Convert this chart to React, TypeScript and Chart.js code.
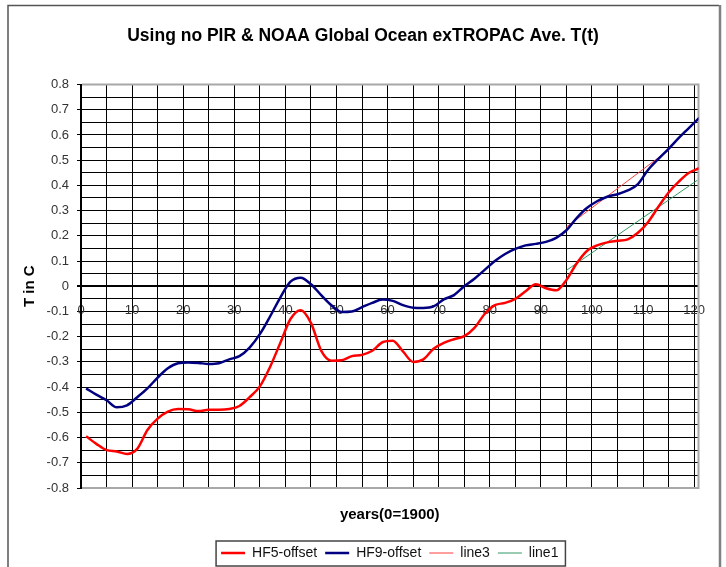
import React, { useEffect, useRef } from 'react';
import { Chart, registerables } from 'chart.js';

Chart.register(...registerables);

const TITLE = 'Using no PIR & NOAA Global Ocean exTROPAC Ave. T(t)';
const X_TITLE = 'years(0=1900)';
const Y_TITLE = 'T in C';

const YEARS = [
  1, 3, 5, 7, 9, 11, 13, 15, 17, 19, 21, 23, 25, 27, 29, 31, 33, 35, 37, 39,
  41, 43, 45, 47, 49, 51, 53, 55, 57, 59, 61, 63, 65, 67, 69, 71, 73, 75, 77, 79,
  81, 83, 85, 87, 89, 91, 93, 95, 97, 99, 101, 103, 105, 107, 109, 111, 113, 115, 117, 119, 121,
];

const HF5_OFFSET = [
  -0.595, -0.625, -0.65, -0.655, -0.665, -0.645, -0.57, -0.525, -0.497, -0.487,
  -0.488, -0.495, -0.49, -0.49, -0.487, -0.475, -0.44, -0.397, -0.32, -0.225,
  -0.13, -0.095, -0.145, -0.255, -0.295, -0.293, -0.277, -0.272, -0.256, -0.222,
  -0.216, -0.258, -0.3, -0.29, -0.248, -0.225, -0.21, -0.198, -0.165, -0.11,
  -0.075, -0.066, -0.05, -0.02, 0.008, -0.008, -0.016, 0.025, 0.09, 0.14,
  0.162, 0.174, 0.18, 0.186, 0.212, 0.255, 0.315, 0.372, 0.415, 0.45, 0.468,
];

const HF9_OFFSET = [
  -0.405, -0.43, -0.452, -0.48, -0.472, -0.44, -0.405, -0.362, -0.325, -0.305,
  -0.302, -0.304, -0.308, -0.305, -0.29, -0.277, -0.243, -0.19, -0.12, -0.045,
  0.018, 0.034, 0.008, -0.035, -0.075, -0.102, -0.1, -0.083, -0.066, -0.053,
  -0.058, -0.075, -0.085, -0.086, -0.08, -0.052, -0.035, 0.0, 0.03, 0.065,
  0.1, 0.128, 0.148, 0.162, 0.168, 0.176, 0.192, 0.222, 0.27, 0.31,
  0.337, 0.355, 0.365, 0.38, 0.405, 0.462, 0.505, 0.545, 0.588, 0.628, 0.668,
];

const LINE3_YEARS = [95, 115];
const LINE3 = [0.235, 0.54];
const LINE1_YEARS = [95, 120.6];
const LINE1 = [0.063, 0.42];

const X_MIN = 0;
const X_MAX = 120.85;
const Y_MIN = -0.8;
const Y_MAX = 0.8;

const FONT = "'Liberation Sans', Arial, sans-serif";

const toPoints = (xs: number[], ys: number[]) => xs.map((x, i) => ({ x, y: ys[i] }));

const decorPlugin = {
  id: 'decor',
  beforeDraw(chart: any) {
    const { ctx, width, height } = chart;
    ctx.save();
    ctx.fillStyle = '#ffffff';
    ctx.fillRect(0, 0, width, height);
    ctx.strokeStyle = '#555555';
    ctx.lineWidth = 1.5;
    ctx.beginPath();
    ctx.moveTo(8, height);
    ctx.lineTo(8, 5.5);
    ctx.lineTo(719, 5.5);
    ctx.stroke();
    ctx.strokeStyle = '#808080';
    ctx.lineWidth = 2.5;
    ctx.beginPath();
    ctx.moveTo(720, 5);
    ctx.lineTo(720, height);
    ctx.stroke();
    ctx.restore();
  },
  beforeDatasetsDraw(chart: any) {
    const { ctx, chartArea: a } = chart;
    ctx.save();
    ctx.strokeStyle = '#a8a8a8';
    ctx.lineWidth = 2;
    ctx.beginPath();
    ctx.moveTo(a.left + 1, a.top);
    ctx.lineTo(a.right, a.top);
    ctx.lineTo(a.right, a.bottom);
    ctx.lineTo(a.left + 1, a.bottom);
    ctx.stroke();
    ctx.restore();
  },
  afterDraw(chart: any) {
    const lg = chart.legend;
    if (!lg || !lg.legendHitBoxes || !lg.legendHitBoxes.length) return;
    let l = Infinity, r = -Infinity, t = Infinity, b = -Infinity;
    for (const h of lg.legendHitBoxes) {
      l = Math.min(l, h.left);
      r = Math.max(r, h.left + h.width);
      t = Math.min(t, h.top);
      b = Math.max(b, h.top + h.height);
    }
    const { ctx } = chart;
    ctx.save();
    ctx.strokeStyle = '#444444';
    ctx.lineWidth = 1.5;
    ctx.strokeRect(l - 5, t - 5, r - l + 12, b - t + 11);
    ctx.restore();
  },
};

const isTenth = (v: number) => Math.abs(v * 10 - Math.round(v * 10)) < 1e-6;

export default function App() {
  const canvasRef = useRef<HTMLCanvasElement | null>(null);

  useEffect(() => {
    document.body.style.margin = '0';
    const canvas = canvasRef.current;
    if (!canvas) return;
    const chart = new Chart(canvas, {
      type: 'line',
      data: {
        datasets: [
          {
            label: 'HF5-offset',
            data: toPoints(YEARS, HF5_OFFSET),
            borderColor: '#ff0000',
            backgroundColor: '#ff0000',
            borderWidth: 2.5,
            pointRadius: 0,
            tension: 0.4,
            cubicInterpolationMode: 'monotone',
            fill: false,
          },
          {
            label: 'HF9-offset',
            data: toPoints(YEARS, HF9_OFFSET),
            borderColor: '#000080',
            backgroundColor: '#000080',
            borderWidth: 2.5,
            pointRadius: 0,
            tension: 0.4,
            cubicInterpolationMode: 'monotone',
            fill: false,
          },
          {
            label: 'line3',
            data: toPoints(LINE3_YEARS, LINE3),
            borderColor: '#ff3c3c',
            backgroundColor: '#ff3c3c',
            borderWidth: 1,
            pointRadius: 0,
            fill: false,
          },
          {
            label: 'line1',
            data: toPoints(LINE1_YEARS, LINE1),
            borderColor: '#339966',
            backgroundColor: '#339966',
            borderWidth: 1,
            pointRadius: 0,
            fill: false,
          },
        ],
      },
      options: {
        responsive: false,
        animation: false,
        events: [],
        layout: { padding: { top: 0, left: 0, right: 0, bottom: -3 } },
        scales: {
          x: {
            type: 'linear',
            min: X_MIN,
            max: X_MAX,
            position: { y: 0 },
            grid: {
              color: '#000000',
              lineWidth: 1,
              drawTicks: true,
              tickLength: 5,
              tickColor: (c: any) => (c.tick && c.tick.value % 10 === 0 ? '#000000' : 'transparent'),
            },
            border: { display: true, color: '#000000', width: 2 },
            ticks: {
              stepSize: 5,
              autoSkip: false,
              maxRotation: 0,
              includeBounds: false,
              padding: 11,
              color: '#333333',
              font: { family: FONT, size: 13 },
              callback: (v: any) => (Number(v) % 10 === 0 ? String(v) : ''),
            },
          },
          y: {
            type: 'linear',
            min: Y_MIN,
            max: Y_MAX,
            afterFit: (scale: any) => {
              scale.width = 81;
            },
            grid: {
              color: (c: any) =>
                c.tick && Math.abs(Math.abs(c.tick.value) - 0.8) < 1e-6 ? 'transparent' : '#000000',
              lineWidth: (c: any) => (c.tick && Math.abs(c.tick.value) < 1e-6 ? 2 : 1),
              drawTicks: true,
              tickLength: 4,
              tickColor: (c: any) => (c.tick && isTenth(c.tick.value) ? '#000000' : 'transparent'),
            },
            border: { display: true, color: '#000000', width: 2 },
            ticks: {
              stepSize: 0.05,
              autoSkip: false,
              padding: 8,
              color: '#333333',
              font: { family: FONT, size: 13 },
              callback: (v: any) => {
                const n = Number(v);
                return isTenth(n) ? String(Math.round(n * 10) / 10) : '';
              },
            },
            title: {
              display: true,
              text: Y_TITLE,
              color: '#000000',
              font: { family: FONT, size: 15, weight: 'bold' },
              padding: { top: 21, bottom: 0 },
            },
          },
          yRight: {
            type: 'linear',
            position: 'right',
            display: true,
            min: Y_MIN,
            max: Y_MAX,
            afterFit: (scale: any) => {
              scale.width = 27.5;
            },
            grid: { display: false, drawTicks: false },
            border: { display: false },
            ticks: { display: false },
          },
        },
        plugins: {
          title: {
            display: true,
            text: TITLE,
            color: '#000000',
            font: { family: FONT, size: 17.5, weight: 'bold' },
            padding: { top: 25.5, bottom: 38 },
          },
          subtitle: {
            display: true,
            text: X_TITLE,
            position: 'bottom',
            fullSize: false,
            weight: 500,
            color: '#000000',
            font: { family: FONT, size: 15, weight: 'bold' },
            padding: { top: 18, bottom: 14 },
          },
          legend: {
            display: true,
            position: 'bottom',
            fullSize: false,
            labels: {
              usePointStyle: true,
              pointStyle: 'line',
              pointStyleWidth: 24,
              padding: 8,
              color: '#111111',
              font: { family: FONT, size: 14 },
            },
          },
          tooltip: { enabled: false },
        },
      } as any,
      plugins: [decorPlugin],
    });
    return () => chart.destroy();
  }, []);

  return (
    <div style={{ width: 726, height: 567 }}>
      <canvas ref={canvasRef} width={726} height={567} style={{ display: 'block' }} />
    </div>
  );
}
